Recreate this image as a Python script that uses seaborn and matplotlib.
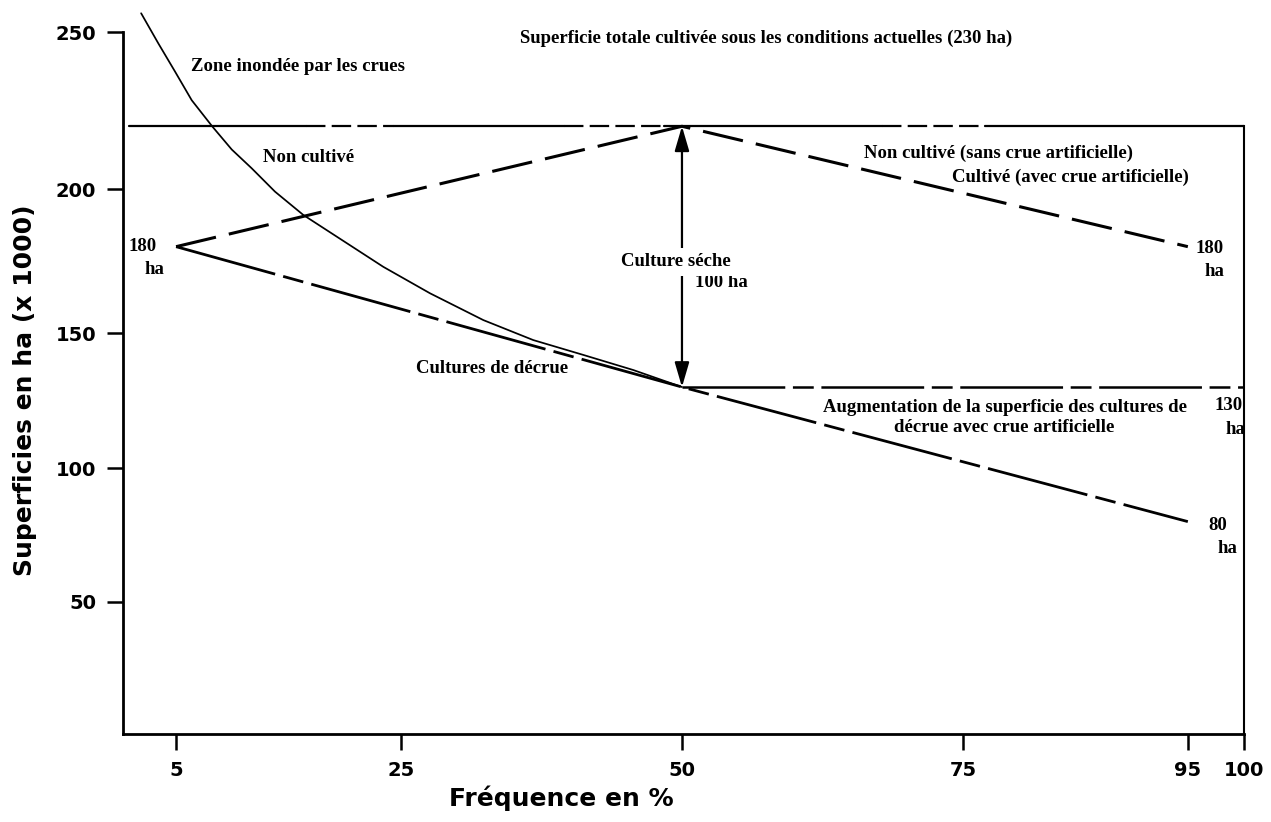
import numpy as np
import pandas as pd
import matplotlib
matplotlib.use("Agg")
import matplotlib.pyplot as plt
import seaborn as sns

# ------------------------------------------------------------------ data
FREQ_TICKS = [5, 25, 50, 75, 95, 100]
AREA_TICKS = [50, 100, 150, 200, 250]

# hand-drawn (non uniform) vertical graduation of the original figure
SCALE_VALUES = [0, 50, 100, 150, 200, 250]
SCALE_HEIGHTS = [0, 132, 266, 401, 545, 702]

# flooded area curve ("Zone inondée par les crues")
FLOOD_X = [1.89, 3.42, 4.91, 6.39, 8.23, 9.95, 11.73, 13.80, 16.32,
           23.43, 27.59, 32.33, 36.77, 41.22, 45.67, 50.0]
FLOOD_Y = [256.0, 246.4, 237.4, 228.3, 219.9, 212.6, 206.6, 199.1, 191.0,
           173.0, 163.8, 154.5, 147.4, 141.9, 136.3, 130.0]

# recession cropping line 180 ha -> 80 ha
DECRUE_X = [5, 50, 95]
DECRUE_Y = [180, 130, 80]

# non cultivated / cultivated with artificial flood
NONCULT_X = [5, 50, 95]
NONCULT_Y = [180, 220, 180]

# total cultivated area line (alternating solid / dashed pieces)
TOTAL_LEVEL = 220
TOTAL_BREAKS = [0.8, 16.6, 24.4, 39.5, 48.4, 67.8, 77.0, 100]

# increase of recession cropping with artificial flood
GAIN_X = [50, 100]
GAIN_Y = [130, 130]

# dry cropping arrow
DRY_X = 50
DRY_RANGE = [130, 220]

# ------------------------------------------------------------------ style
sns.set_style("ticks")
plt.rcParams["font.family"] = ["DejaVu Sans"]
plt.rcParams["lines.scale_dashes"] = False
plt.rcParams["text.color"] = "black"
plt.rcParams["axes.labelcolor"] = "black"

SERIF = dict(family=["Liberation Serif", "DejaVu Serif"], weight="bold",
             size=13.5, color="black")


def _pw(v, xs, ys):
    v = np.asarray(v, dtype=float)
    xs = np.asarray(xs, dtype=float)
    ys = np.asarray(ys, dtype=float)
    out = np.interp(v, xs, ys)
    lo_s = (ys[1] - ys[0]) / (xs[1] - xs[0])
    hi_s = (ys[-1] - ys[-2]) / (xs[-1] - xs[-2])
    out = np.where(v < xs[0], ys[0] + (v - xs[0]) * lo_s, out)
    out = np.where(v > xs[-1], ys[-1] + (v - xs[-1]) * hi_s, out)
    return out


def fwd(v):
    return _pw(v, SCALE_VALUES, SCALE_HEIGHTS)


def inv(p):
    return _pw(p, SCALE_HEIGHTS, SCALE_VALUES)


fig = plt.figure(figsize=(12.71, 8.22), dpi=100)
ax = fig.add_axes([0.0968, 0.1071, 0.8820, 0.8844])

black = "black"

flood = pd.DataFrame({"x": FLOOD_X, "y": FLOOD_Y})
sns.lineplot(data=flood, x="x", y="y", ax=ax, color=black, linewidth=1.25,
             estimator=None, sort=False)

dec = pd.DataFrame({"x": DECRUE_X, "y": DECRUE_Y})
sns.lineplot(data=dec, x="x", y="y", ax=ax, color=black, linewidth=2.0,
             linestyle=(0, (74, 6, 15, 6)), estimator=None, sort=False)

nc = pd.DataFrame({"x": NONCULT_X, "y": NONCULT_Y})
sns.lineplot(data=nc, x="x", y="y", ax=ax, color=black, linewidth=2.2,
             linestyle=(0, (29.5, 9.5)), estimator=None, sort=False)

gain = pd.DataFrame({"x": GAIN_X, "y": GAIN_Y})
sns.lineplot(data=gain, x="x", y="y", ax=ax, color=black, linewidth=1.8,
             linestyle=(0, (74, 5.5, 15, 5.5)), estimator=None, sort=False)

for i in range(len(TOTAL_BREAKS) - 1):
    seg = pd.DataFrame({"x": TOTAL_BREAKS[i:i + 2], "y": [TOTAL_LEVEL] * 2})
    ls = "-" if i % 2 == 0 else (0, (14, 4.5))
    sns.lineplot(data=seg, x="x", y="y", ax=ax, color=black, linewidth=1.6,
                 linestyle=ls, estimator=None, sort=False)

ax.annotate("", xy=(DRY_X, DRY_RANGE[1]), xytext=(DRY_X, DRY_RANGE[0]),
            arrowprops=dict(arrowstyle="<|-|>,head_length=0.75,head_width=0.22",
                            mutation_scale=20, color=black, lw=1.6,
                            shrinkA=0, shrinkB=0))

# ------------------------------------------------------------------ axes
ax.set_yscale("function", functions=(fwd, inv))
ax.set_xlim(0.28, 100)
ax.set_ylim(0, 258)
ax.set_xticks(FREQ_TICKS)
ax.set_xticklabels([str(t) for t in FREQ_TICKS])
ax.set_yticks(AREA_TICKS)
ax.set_yticklabels([str(t) for t in AREA_TICKS])
ax.minorticks_off()
ax.tick_params(axis="both", direction="out", length=11.5, width=1.8,
               labelsize=14, pad=8, color=black, labelcolor=black)
for lab in ax.get_xticklabels() + ax.get_yticklabels():
    lab.set_fontweight("bold")

ax.spines["top"].set_visible(False)
ax.spines["left"].set_bounds(0, 250)
ax.spines["right"].set_bounds(0, 220)
for side, lw in (("left", 2.0), ("bottom", 2.0), ("right", 1.5)):
    ax.spines[side].set_linewidth(lw)
    ax.spines[side].set_color(black)

ax.set_xlabel("Fréquence en %", fontsize=18, fontweight="bold", color=black)
ax.set_ylabel("Superficies en ha (x 1000)", fontsize=18, fontweight="bold", color=black)
ax.yaxis.set_label_coords(-0.0767, 0.473)
ax.xaxis.set_label_coords(0.3907, -0.071)

# ------------------------------------------------------------------ annotations
ax.text(57.5, 248.1, "Superficie totale cultivée sous les conditions actuelles (230 ha)",
        ha="center", va="center", **SERIF)
ax.text(15.8, 238.9, "Zone inondée par les crues", ha="center", va="center", **SERIF)
ax.text(16.8, 210.2, "Non cultivé", ha="center", va="center", **SERIF)
ax.text(2.06, 179.9, "180", ha="center", va="center", **SERIF)
ax.text(3.1, 171.9, "ha", ha="center", va="center", **SERIF)
ax.text(78.2, 211.5, "Non cultivé (sans crue artificielle)", ha="center", va="center", **SERIF)
ax.text(84.6, 203.8, "Cultivé (avec crue artificielle)", ha="center", va="center", **SERIF)
ax.text(96.95, 179.5, "180", ha="center", va="center", **SERIF)
ax.text(97.4, 171.2, "ha", ha="center", va="center", **SERIF)
ax.text(49.5, 174.7, "Culture séche", ha="center", va="center", zorder=5,
        bbox=dict(facecolor="white", edgecolor="none", pad=4), **SERIF)
ax.text(53.5, 167.4, "100 ha", ha="center", va="center", **SERIF)
ax.text(33.15, 137.0, "Cultures de décrue", ha="center", va="center", **SERIF)
ax.text(78.7, 118.7, "Augmentation de la superficie des cultures de\ndécrue avec crue artificielle",
        ha="center", va="center", linespacing=1.25, **SERIF)
ax.text(98.6, 123.3, "130", ha="center", va="center", **SERIF)
ax.text(99.2, 114.1, "ha", ha="center", va="center", **SERIF)
ax.text(97.7, 78.7, "80", ha="center", va="center", **SERIF)
ax.text(98.5, 70.1, "ha", ha="center", va="center", **SERIF)

fig.savefig("out.png", dpi=100, facecolor="white")
